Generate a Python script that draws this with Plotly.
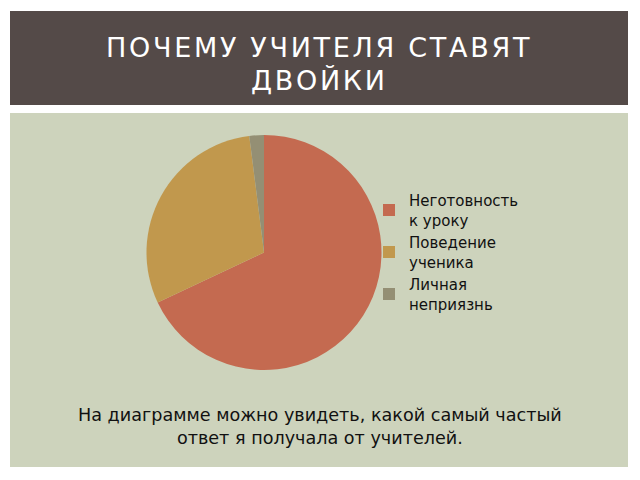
import plotly.graph_objects as go

labels = ["Неготовность<br>к уроку", "Поведение<br>ученика", "Личная<br>неприязнь"]
values = [68, 30, 2]
colors = ["#C46A50", "#C1984D", "#948F74"]

title_lines = ["ПОЧЕМУ УЧИТЕЛЯ СТАВЯТ", "ДВОЙКИ"]
caption = "На диаграмме можно увидеть, какой самый частый<br>ответ я получала от учителей."

W, H = 640, 480
OFF = 8  # page body margin


def px(x):
    return (x - OFF) / W


def py(y):
    return (H - (y - OFF)) / H


fig = go.Figure(go.Pie(
    labels=labels, values=values, sort=False, direction="clockwise", rotation=0,
    marker=dict(colors=colors, line=dict(width=0)),
    textinfo="none", hoverinfo="label+percent",
    domain=dict(x=[px(146.5), px(381.5)], y=[py(370), py(135)]),
))

shapes = [
    dict(type="rect", xref="paper", yref="paper", x0=px(10), x1=px(628),
         y0=py(105), y1=py(11), fillcolor="#544A48", line=dict(width=0), layer="below"),
    dict(type="rect", xref="paper", yref="paper", x0=px(10), x1=px(628),
         y0=py(467), y1=py(113), fillcolor="#CDD3BC", line=dict(width=0), layer="below"),
]

annotations = [
    dict(text='<span style="letter-spacing:2.7px">' + title_lines[0] + '</span>', x=px(319), y=py(47),
         xref="paper", yref="paper", showarrow=False, xanchor="center", yanchor="middle",
         font=dict(family="DejaVu Sans", size=27, color="#FFFFFF")),
    dict(text='<span style="letter-spacing:2.7px">' + title_lines[1] + '</span>', x=px(319), y=py(80),
         xref="paper", yref="paper", showarrow=False, xanchor="center", yanchor="middle",
         font=dict(family="DejaVu Sans", size=27, color="#FFFFFF")),
    dict(text=caption, x=px(320), y=py(426.5), xref="paper", yref="paper",
         showarrow=False, xanchor="center", yanchor="middle", align="center",
         font=dict(family="DejaVu Sans", size=17.6, color="#111111")),
]

fig.update_layout(
    width=W, height=H, autosize=False,
    margin=dict(l=0, r=0, t=0, b=0),
    paper_bgcolor="#FFFFFF", plot_bgcolor="rgba(0,0,0,0)",
    shapes=shapes, annotations=annotations,
    showlegend=True,
    legend=dict(x=px(369), y=py(184), xanchor="left", yanchor="top",
                bgcolor="rgba(0,0,0,0)", font=dict(family="DejaVu Sans", size=15, color="#111111"),
                tracegroupgap=0),
)

fig.write_html("out.html")
